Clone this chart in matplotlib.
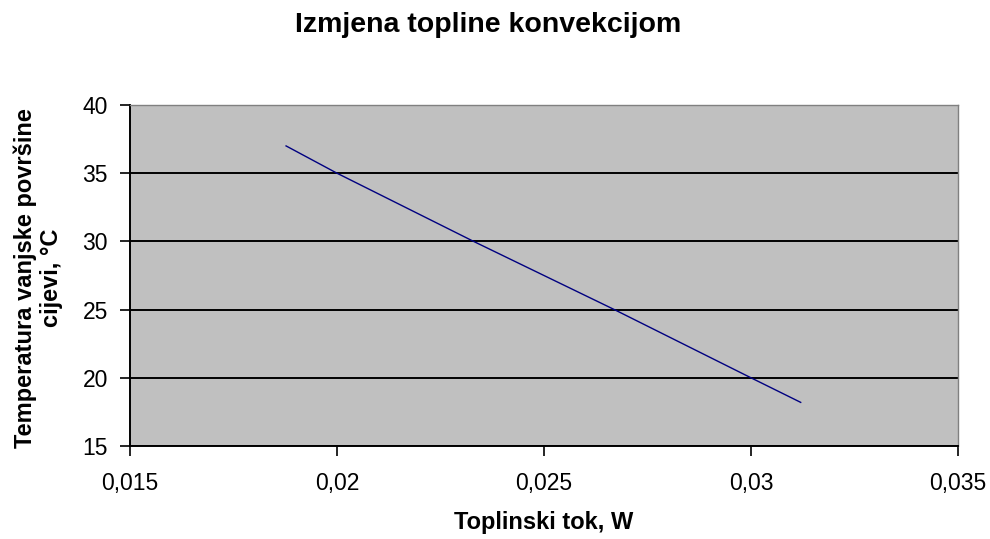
import numpy as np
import matplotlib.pyplot as plt
from matplotlib.ticker import FuncFormatter

# values
heat_flow = [0.01877, 0.0200, 0.0233, 0.0267, 0.0300, 0.0312]
surface_temp = [37.0, 35.0, 30.0, 25.0, 20.0, 18.2]

x_ticks = [0.015, 0.02, 0.025, 0.03, 0.035]
y_ticks = [15, 20, 25, 30, 35, 40]

plt.rcParams['font.family'] = ['Liberation Sans', 'DejaVu Sans']

fig = plt.figure(figsize=(9.9, 5.39), dpi=100)
ax = fig.add_axes([0.1313, 0.1725, 0.8364, 0.6327])
ax.set_facecolor('#C0C0C0')

ax.plot(heat_flow, surface_temp, color='#000080', linewidth=1.0)

ax.set_xlim(0.015, 0.035)
ax.set_ylim(15, 40)
ax.set_xticks(x_ticks)
ax.set_yticks(y_ticks)


def comma_fmt(v, pos):
    s = ('%.3f' % v).rstrip('0').rstrip('.')
    return s.replace('.', ',')


ax.xaxis.set_major_formatter(FuncFormatter(comma_fmt))
ax.yaxis.grid(True, color='black', linewidth=1.4)
ax.set_axisbelow(True)
ax.tick_params(axis='both', direction='out', length=7, width=1.2,
               labelsize=16.5, colors='black')
ax.tick_params(axis='x', pad=12)
ax.tick_params(axis='y', pad=9)

for side in ['top', 'right']:
    ax.spines[side].set_color('#808080')
    ax.spines[side].set_linewidth(1.0)
for side in ['left', 'bottom']:
    ax.spines[side].set_color('black')
    ax.spines[side].set_linewidth(1.4)

fig.text(488 / 990, 1 - 25 / 539, 'Izmjena topline konvekcijom', ha='center',
         va='center', fontsize=20.5, fontweight='bold')
fig.text(544 / 990, 1 - 522 / 539, 'Toplinski tok, W', ha='center',
         va='center', fontsize=17, fontweight='bold')
fig.text(38 / 990, 1 - 278 / 539, 'Temperatura vanjske površine\ncijevi, °C',
         ha='center', va='center', rotation=90, fontsize=17,
         fontweight='bold', linespacing=1.15, multialignment='center')

fig.savefig('out.png', dpi=100)
